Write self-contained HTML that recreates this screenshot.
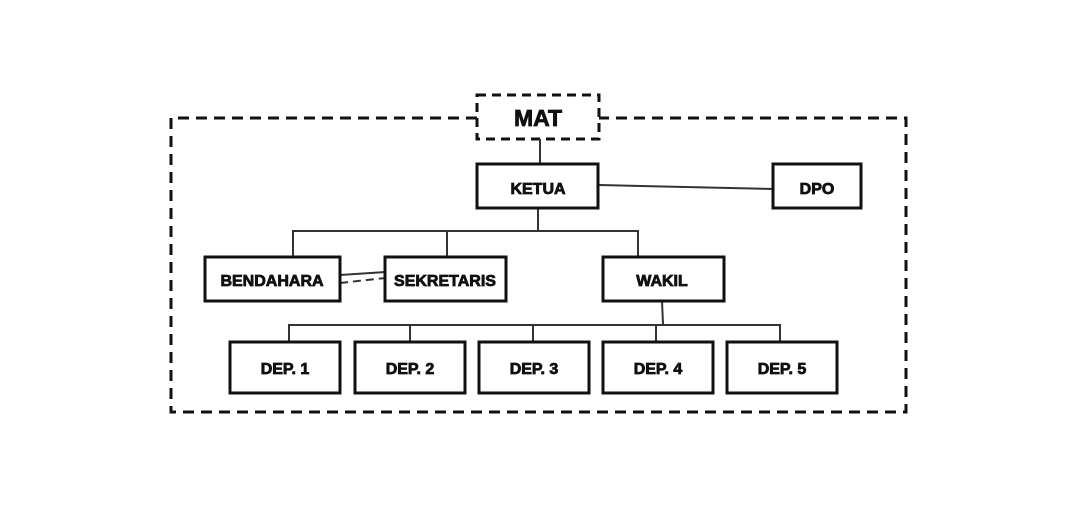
<!DOCTYPE html>
<html><head><style>
body{margin:0;background:#fff;width:1077px;height:510px;overflow:hidden}
svg text{font-family:"Liberation Sans",sans-serif;font-weight:bold;fill:#111;stroke:#111;stroke-width:0.8}
</style></head><body>
<svg width="1077" height="510" viewBox="0 0 1077 510">
<g fill="none" stroke="#111" stroke-width="3">
<path d="M477 118 H171 V412 H906 V118 H599" stroke-dasharray="11,7"/>
<rect x="477" y="95" width="122" height="44" stroke-dasharray="9,6"/>
</g>
<g fill="none" stroke="#333" stroke-width="2">
<line x1="540" y1="139" x2="540" y2="164"/>
<line x1="599" y1="185" x2="773" y2="189"/>
<path d="M538 209 V230 M293 257 V231 H638 V257 M447 231 V257"/>
<line x1="340" y1="275" x2="385" y2="272"/>
<line x1="340" y1="283" x2="385" y2="278" stroke-dasharray="8,5"/>
<path d="M662 301 L663 324 M289 342 V325 H780 V342 M410 325 V342 M533 325 V342 M656 325 V342"/>
</g>
<g fill="#fff" stroke="#111" stroke-width="3">
<rect x="477" y="164" width="121" height="44"/>
<rect x="773" y="164" width="88" height="44"/>
<rect x="205" y="257" width="135" height="44"/>
<rect x="385" y="257" width="121" height="44"/>
<rect x="603" y="257" width="121" height="44"/>
<rect x="230" y="342" width="110" height="51"/>
<rect x="355" y="342" width="110" height="51"/>
<rect x="479" y="342" width="110" height="51"/>
<rect x="603" y="342" width="110" height="51"/>
<rect x="727" y="342" width="110" height="51"/>
</g>
<g text-anchor="middle" font-size="16">
<text x="538" y="126" font-size="23">MAT</text>
<text x="538" y="194">KETUA</text>
<text x="817" y="194">DPO</text>
<text x="272" y="286">BENDAHARA</text>
<text x="445" y="286">SEKRETARIS</text>
<text x="662" y="286">WAKIL</text>
<text x="285" y="374">DEP. 1</text>
<text x="410" y="374">DEP. 2</text>
<text x="534" y="374">DEP. 3</text>
<text x="658" y="374">DEP. 4</text>
<text x="782" y="374">DEP. 5</text>
</g>
</svg>
</body></html>
